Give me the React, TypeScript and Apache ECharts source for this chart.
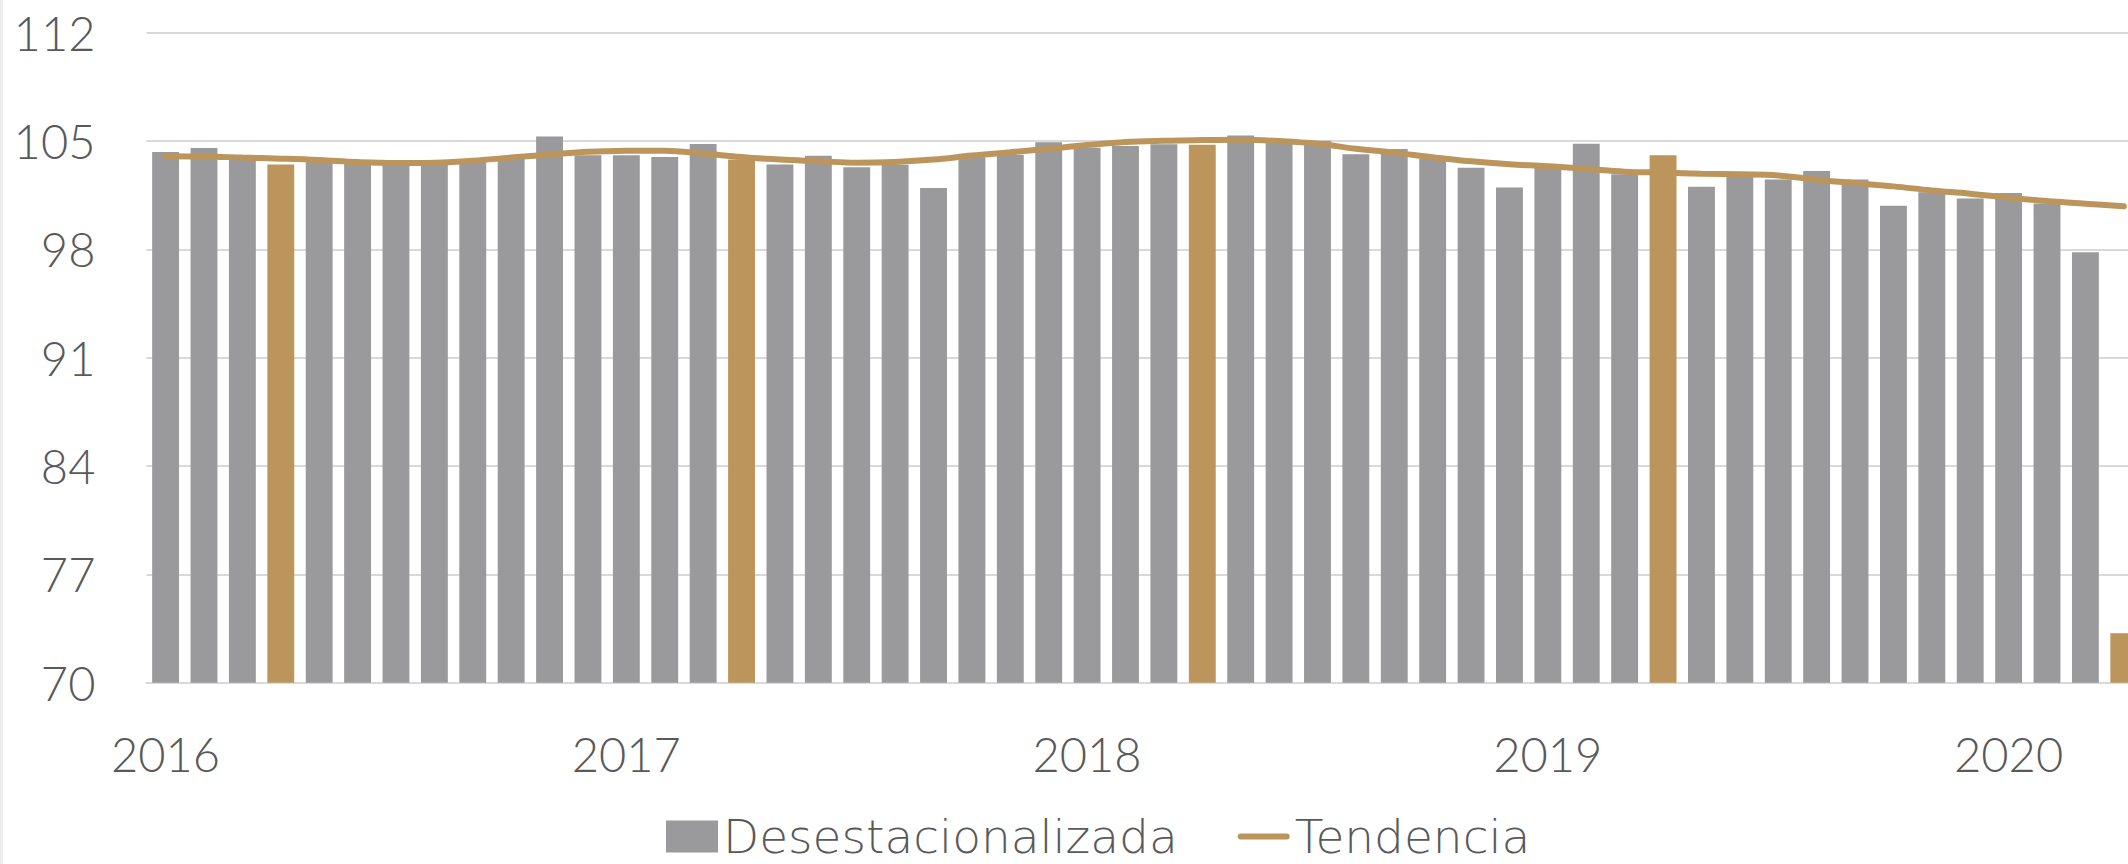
import React, { useEffect, useRef } from "react";
import * as echarts from "echarts";

const months = [
  "2016-01", "2016-02", "2016-03", "2016-04", "2016-05", "2016-06", "2016-07", "2016-08", "2016-09", "2016-10", "2016-11", "2016-12",
  "2017-01", "2017-02", "2017-03", "2017-04", "2017-05", "2017-06", "2017-07", "2017-08", "2017-09", "2017-10", "2017-11", "2017-12",
  "2018-01", "2018-02", "2018-03", "2018-04", "2018-05", "2018-06", "2018-07", "2018-08", "2018-09", "2018-10", "2018-11", "2018-12",
  "2019-01", "2019-02", "2019-03", "2019-04", "2019-05", "2019-06", "2019-07", "2019-08", "2019-09", "2019-10", "2019-11", "2019-12",
  "2020-01", "2020-02", "2020-03", "2020-04",
];

const desestacionalizada = [
  104.29, 104.55, 103.9, 103.49, 103.88, 103.6, 103.55, 103.6, 103.7, 103.85, 105.3, 104.08,
  104.08, 103.97, 104.81, 103.8, 103.49, 104.05, 103.3, 103.47, 101.96, 103.95, 104.12, 104.92,
  104.57, 104.68, 104.79, 104.76, 105.35, 104.9, 105.02, 104.14, 104.48, 103.86, 103.28, 101.99,
  103.52, 104.83, 102.85, 104.08, 102.05, 102.67, 102.52, 103.06, 102.52, 100.82, 101.69, 101.28,
  101.64, 100.96, 97.82, 73.2,
];

const tendencia = [
  104.01, 104.0, 103.93, 103.86, 103.77, 103.64, 103.58, 103.6, 103.73, 103.93, 104.12, 104.3,
  104.37, 104.38, 104.19, 103.97, 103.8, 103.7, 103.6, 103.65, 103.8, 104.06, 104.27, 104.5,
  104.74, 104.94, 105.02, 105.06, 105.08, 105.0, 104.83, 104.5, 104.25, 103.95, 103.69, 103.5,
  103.37, 103.2, 103.02, 102.96, 102.89, 102.85, 102.78, 102.5, 102.28, 102.07, 101.81, 101.6,
  101.34, 101.12, 100.95, 100.78,
];

const highlightMonths = ["2016-04", "2017-04", "2018-04", "2019-04", "2020-04"];

const yTicks = { min: 70, max: 112, interval: 7 };

const GRAY = "#9a9a9c";
const GOLD = "#bc955c";
const TEXT = "#595959";
const GRID = "#d9d9d9";
const FONT = "Lato";
const LEGEND_FONT = "'DejaVu Sans', 'Open Sans', sans-serif";

export default function App() {
  const ref = useRef<HTMLDivElement>(null);

  useEffect(() => {
    document.body.style.margin = "0";
    if (!ref.current) return;
    const chart = echarts.init(ref.current, undefined, { renderer: "svg" });

    const barData = desestacionalizada.map((v, i) => ({
      value: v,
      itemStyle: { color: highlightMonths.includes(months[i]) ? GOLD : GRAY },
    }));

    chart.setOption({
      animation: false,
      backgroundColor: "#ffffff",
      textStyle: { fontFamily: FONT },
      grid: {
        left: 146.4,
        right: -15,
        top: 32.7,
        bottom: 181.3,
        containLabel: false,
        outerBoundsMode: "none",
      },
      graphic: [
        {
          type: "rect",
          shape: { x: 0, y: 0, width: 3, height: 864 },
          style: { fill: "#ededed" },
          silent: true,
        },
      ],
      legend: {
        left: 666,
        top: 813,
        padding: 0,
        itemWidth: 52,
        itemHeight: 32,
        itemGap: 60,
        textStyle: {
          color: TEXT,
          fontSize: 47,
          fontFamily: LEGEND_FONT,
          fontWeight: 200,
          lineHeight: 40,
          padding: [0, 0, 0, 0],
        },
        data: [
          { name: "Desestacionalizada", icon: "rect", itemStyle: { color: GRAY } },
          {
            name: "Tendencia",
            icon: "path://M3,0 L49,0 A3,3 0 0 1 49,6 L3,6 A3,3 0 0 1 3,0 Z",
            itemStyle: { color: GOLD, borderWidth: 0 },
          },
        ],
      },
      xAxis: {
        type: "category",
        data: months,
        boundaryGap: true,
        axisLine: { show: true, lineStyle: { color: GRID, width: 2 } },
        axisTick: { show: false },
        axisLabel: {
          interval: 0,
          margin: 48,
          color: TEXT,
          fontSize: 47,
          fontFamily: FONT,
          fontWeight: 300,
          formatter: (v: string) => (v.endsWith("-01") ? v.slice(0, 4) : ""),
        },
        splitLine: { show: false },
      },
      yAxis: {
        type: "value",
        min: yTicks.min,
        max: yTicks.max,
        interval: yTicks.interval,
        axisLine: { show: false },
        axisTick: { show: false },
        axisLabel: {
          margin: 51,
          color: TEXT,
          fontSize: 47,
          fontFamily: FONT,
          fontWeight: 300,
        },
        splitLine: { show: true, lineStyle: { color: GRID, width: 2 } },
      },
      series: [
        {
          name: "Desestacionalizada",
          type: "bar",
          data: barData,
          barCategoryGap: "30%",
          itemStyle: { color: GRAY },
          z: 2,
        },
        {
          name: "Tendencia",
          type: "line",
          data: tendencia,
          smooth: 0.4,
          symbol: "none",
          lineStyle: { color: GOLD, width: 6, cap: "round" },
          itemStyle: { color: GOLD },
          z: 3,
        },
      ],
    });

    return () => chart.dispose();
  }, []);

  return <div ref={ref} style={{ width: 2128, height: 864 }} />;
}
